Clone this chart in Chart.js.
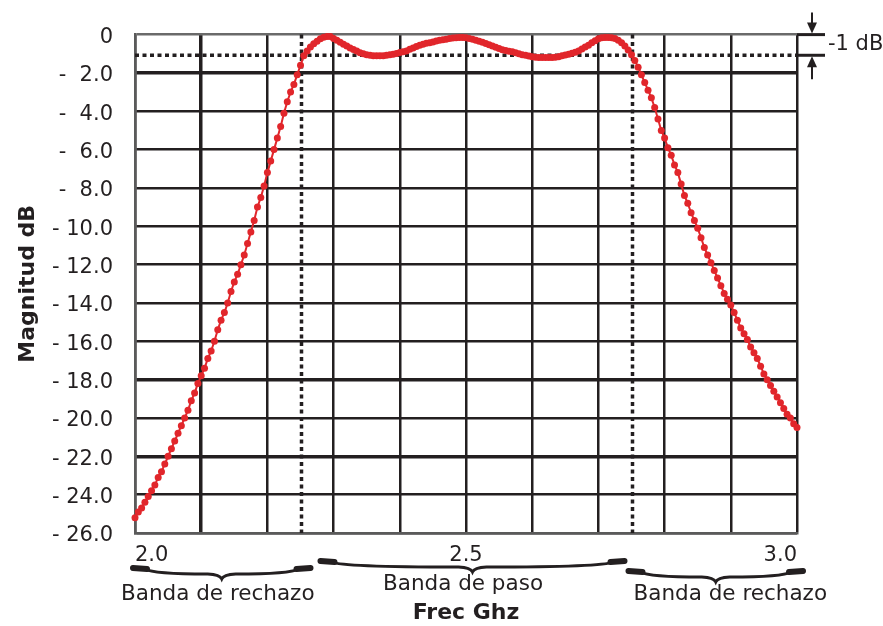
<!DOCTYPE html>
<html>
<head>
<meta charset="utf-8">
<script src="https://cdn.jsdelivr.net/npm/chart.js@4/dist/chart.umd.min.js"></script>
<style>
  html, body { margin: 0; padding: 0; background: #fff; }
</style>
</head>
<body>
<canvas id="myChart" width="883" height="626"></canvas>
<script>
var freqGHz = [
  2.000,2.005,2.010,2.015,2.020,2.025,2.030,2.035,2.040,2.045,
  2.050,2.055,2.060,2.065,2.070,2.075,2.080,2.085,2.090,2.095,
  2.100,2.105,2.110,2.115,2.120,2.125,2.130,2.135,2.140,2.145,
  2.150,2.155,2.160,2.165,2.170,2.175,2.180,2.185,2.190,2.195,
  2.200,2.205,2.210,2.215,2.220,2.225,2.230,2.235,2.240,2.245,
  2.250,2.255,2.260,2.265,2.270,2.275,2.280,2.285,2.290,2.295,
  2.300,2.305,2.310,2.315,2.320,2.325,2.330,2.335,2.340,2.345,
  2.350,2.355,2.360,2.365,2.370,2.375,2.380,2.385,2.390,2.395,
  2.400,2.405,2.410,2.415,2.420,2.425,2.430,2.435,2.440,2.445,
  2.450,2.455,2.460,2.465,2.470,2.475,2.480,2.485,2.490,2.495,
  2.500,2.505,2.510,2.515,2.520,2.525,2.530,2.535,2.540,2.545,
  2.550,2.555,2.560,2.565,2.570,2.575,2.580,2.585,2.590,2.595,
  2.600,2.605,2.610,2.615,2.620,2.625,2.630,2.635,2.640,2.645,
  2.650,2.655,2.660,2.665,2.670,2.675,2.680,2.685,2.690,2.695,
  2.700,2.705,2.710,2.715,2.720,2.725,2.730,2.735,2.740,2.745,
  2.750,2.755,2.760,2.765,2.770,2.775,2.780,2.785,2.790,2.795,
  2.800,2.805,2.810,2.815,2.820,2.825,2.830,2.835,2.840,2.845,
  2.850,2.855,2.860,2.865,2.870,2.875,2.880,2.885,2.890,2.895,
  2.900,2.905,2.910,2.915,2.920,2.925,2.930,2.935,2.940,2.945,
  2.950,2.955,2.960,2.965,2.970,2.975,2.980,2.985,2.990,2.995,
  3.000
];
var magnitudeDb = [
  -25.2,-24.9,-24.7,-24.4,-24.1,-23.8,-23.5,-23.1,-22.8,-22.4,
  -22.0,-21.6,-21.2,-20.8,-20.4,-20.0,-19.6,-19.1,-18.7,-18.2,
  -17.8,-17.4,-16.9,-16.5,-16.0,-15.4,-14.9,-14.5,-14.0,-13.4,
  -12.9,-12.5,-12.0,-11.5,-10.9,-10.3,-9.7,-9.0,-8.5,-7.9,
  -7.2,-6.6,-6.0,-5.4,-4.8,-4.1,-3.5,-3.0,-2.6,-2.1,
  -1.6,-1.1,-0.85,-0.65,-0.48,-0.35,-0.22,-0.14,-0.1,-0.1,
  -0.2,-0.3,-0.4,-0.5,-0.6,-0.7,-0.78,-0.86,-0.95,-1.0,
  -1.05,-1.08,-1.1,-1.1,-1.1,-1.1,-1.08,-1.05,-1.02,-0.98,
  -0.94,-0.9,-0.85,-0.77,-0.7,-0.62,-0.56,-0.5,-0.45,-0.42,
  -0.38,-0.34,-0.3,-0.27,-0.24,-0.2,-0.18,-0.16,-0.15,-0.15,
  -0.16,-0.2,-0.24,-0.3,-0.35,-0.4,-0.47,-0.53,-0.6,-0.66,
  -0.72,-0.79,-0.83,-0.87,-0.9,-0.95,-1.0,-1.05,-1.08,-1.12,
  -1.15,-1.18,-1.2,-1.2,-1.2,-1.2,-1.2,-1.18,-1.15,-1.1,
  -1.06,-1.02,-0.97,-0.92,-0.85,-0.75,-0.65,-0.55,-0.43,-0.32,
  -0.22,-0.17,-0.15,-0.15,-0.16,-0.2,-0.3,-0.43,-0.6,-0.8,
  -1.05,-1.35,-1.7,-2.1,-2.5,-2.9,-3.3,-3.8,-4.4,-5.0,
  -5.4,-5.9,-6.3,-6.8,-7.2,-7.8,-8.4,-8.8,-9.3,-9.7,
  -10.1,-10.6,-11.1,-11.5,-11.9,-12.3,-12.7,-13.1,-13.5,-13.8,
  -14.1,-14.5,-14.9,-15.3,-15.6,-15.9,-16.3,-16.6,-16.9,-17.3,
  -17.7,-18.0,-18.3,-18.6,-18.9,-19.2,-19.5,-19.8,-20.0,-20.3,
  -20.5
];
var xTickLabels = ['2.0', '2.5', '3.0'];
var bandNames = ['Banda de rechazo', 'Banda de paso', 'Banda de rechazo'];
var bandEdges = [2.0, 2.25, 2.75, 3.0];
var rippleDb = -1;
var rippleLabel = '-1 dB';

var ink = '#231f20';
var red = '#e1262b';
Chart.defaults.font.family = "'DejaVu Sans', sans-serif";
Chart.defaults.color = ink;

function fmtY(v) {
  if (Math.abs(v) < 1e-9) return '0';
  var a = Math.abs(v);
  return '-' + (a < 10 ? '  ' : ' ') + a.toFixed(1);
}

// dotted reference lines, band braces and the -1 dB marker
var annotations = {
  id: 'annotations',
  beforeDatasetsDraw: function (chart) {
    var c = chart.ctx, a = chart.chartArea;
    var xs = chart.scales.x, ys = chart.scales.y;
    c.save();
    c.strokeStyle = ink;
    c.lineWidth = 3.5;
    c.setLineDash([4, 3.5]);
    var yr = ys.getPixelForValue(rippleDb) + 1.5;
    c.beginPath(); c.moveTo(a.left, yr); c.lineTo(a.right, yr); c.stroke();
    [bandEdges[1], bandEdges[2]].forEach(function (f) {
      var x = xs.getPixelForValue(f) + 1;
      c.beginPath(); c.moveTo(x, a.top); c.lineTo(x, a.bottom); c.stroke();
    });
    c.restore();
  },
  afterDraw: function (chart) {
    var c = chart.ctx, a = chart.chartArea;
    var xs = chart.scales.x, ys = chart.scales.y;
    c.save();
    c.strokeStyle = ink; c.fillStyle = ink;

    // braces under the axis
    var braceX0 = [-4, 18, -5], braceX1 = [12, -5, 8];
    var braceY = [568, 561, 571];
    var textDx = [0, -3, 16], textY = [594, 584, 594];
    for (var i = 0; i < bandNames.length; i++) {
      var x0 = xs.getPixelForValue(bandEdges[i]) + braceX0[i];
      var x1 = xs.getPixelForValue(bandEdges[i + 1]) + braceX1[i];
      var y0 = braceY[i], h = 11, mid = (x0 + x1) / 2;
      c.lineWidth = 3;
      c.beginPath();
      c.moveTo(x0 + 14, y0 + 1);
      c.quadraticCurveTo(x0 + 22, y0 + h * 0.55, mid - 14, y0 + h * 0.55);
      c.quadraticCurveTo(mid - 2, y0 + h * 0.6, mid, y0 + h);
      c.quadraticCurveTo(mid + 2, y0 + h * 0.6, mid + 14, y0 + h * 0.55);
      c.quadraticCurveTo(x1 - 22, y0 + h * 0.55, x1 - 14, y0 + 1);
      c.stroke();
      c.lineWidth = 6;
      c.lineCap = 'round';
      c.beginPath(); c.moveTo(x0 + 2, y0); c.lineTo(x0 + 16, y0 + 1); c.stroke();
      c.beginPath(); c.moveTo(x1 - 2, y0); c.lineTo(x1 - 16, y0 + 1); c.stroke();
      c.lineCap = 'butt';
      c.font = "21.5px 'DejaVu Sans', sans-serif";
      c.textAlign = 'center'; c.textBaseline = 'middle';
      var tx = (xs.getPixelForValue(bandEdges[i]) + xs.getPixelForValue(bandEdges[i + 1])) / 2 + textDx[i];
      c.fillText(bandNames[i], tx, textY[i]);
    }

    // -1 dB marker on the right
    var yTop = ys.getPixelForValue(0), yBot = ys.getPixelForValue(rippleDb) + 1.5;
    var ax = a.right + 15;
    c.lineWidth = 3;
    c.beginPath(); c.moveTo(a.right, yTop); c.lineTo(a.right + 28, yTop); c.stroke();
    c.beginPath(); c.moveTo(a.right, yBot); c.lineTo(a.right + 28, yBot); c.stroke();
    c.lineWidth = 2;
    c.beginPath(); c.moveTo(ax, yTop - 22); c.lineTo(ax, yTop - 8); c.stroke();
    c.beginPath(); c.moveTo(ax - 5, yTop - 12); c.lineTo(ax + 5, yTop - 12); c.lineTo(ax, yTop - 1); c.closePath(); c.fill();
    c.beginPath(); c.moveTo(ax, yBot + 8); c.lineTo(ax, yBot + 24); c.stroke();
    c.beginPath(); c.moveTo(ax - 5, yBot + 12); c.lineTo(ax + 5, yBot + 12); c.lineTo(ax, yBot + 1); c.closePath(); c.fill();
    c.font = "21px 'DejaVu Sans', sans-serif";
    c.textAlign = 'left'; c.textBaseline = 'middle';
    c.fillText(rippleLabel, a.right + 31, (yTop + yBot) / 2);
    c.restore();
  }
};

var ctx = document.getElementById('myChart').getContext('2d');
var chart = new Chart(ctx, {
  type: 'line',
  data: {
    datasets: [{
      data: freqGHz.map(function (f, i) { return { x: f, y: magnitudeDb[i] }; }),
      borderColor: red,
      backgroundColor: red,
      borderWidth: 2,
      pointRadius: 3.5,
      pointBorderWidth: 0,
      pointBackgroundColor: red,
      tension: 0,
      clip: false
    }]
  },
  plugins: [annotations],
  options: {
    responsive: false,
    animation: false,
    layout: { padding: { top: 30, right: 86, left: 0, bottom: 0 } },
    plugins: { legend: { display: false }, tooltip: { enabled: false } },
    scales: {
      x: {
        type: 'linear',
        min: 2.0,
        max: 3.0,
        afterFit: function (s) { s.height = 93; },
        border: { color: '#5a5a5a', width: 2.5 },
        grid: {
          drawTicks: false,
          color: ink,
          lineWidth: function (c) {
            return Math.abs(c.tick.value - 2.1) < 1e-6 ? 3.5 : 2.5;
          }
        },
        ticks: {
          stepSize: 0.1,
          align: 'inner',
          padding: 10,
          maxRotation: 0,
          autoSkip: false,
          font: { size: 21 },
          callback: function (v) {
            var s = (Math.round(v * 10) / 10).toFixed(1);
            return xTickLabels.indexOf(s) >= 0 ? s : '';
          }
        },
        title: {
          display: true,
          text: 'Frec Ghz',
          font: { size: 22, weight: 'bold' },
          padding: { top: 0, bottom: 0 }
        }
      },
      y: {
        min: -26,
        max: 0,
        afterFit: function (s) { s.width = 135; },
        border: { color: '#5a5a5a', width: 2.5 },
        grid: {
          drawTicks: false,
          color: function (c) { return c.tick.value === 0 ? '#6a6a6a' : ink; },
          lineWidth: function (c) {
            var v = c.tick.value;
            return (v === -2 || v === -18 || v === -22) ? 3.5 : 2.5;
          }
        },
        ticks: {
          stepSize: 2,
          padding: 22,
          labelOffset: 3,
          font: { size: 21 },
          callback: fmtY
        },
        title: {
          display: true,
          text: 'Magnitud dB',
          font: { size: 22, weight: 'bold' },
          padding: { top: 15, bottom: 0 }
        }
      }
    }
  }
});
</script>
</body>
</html>
